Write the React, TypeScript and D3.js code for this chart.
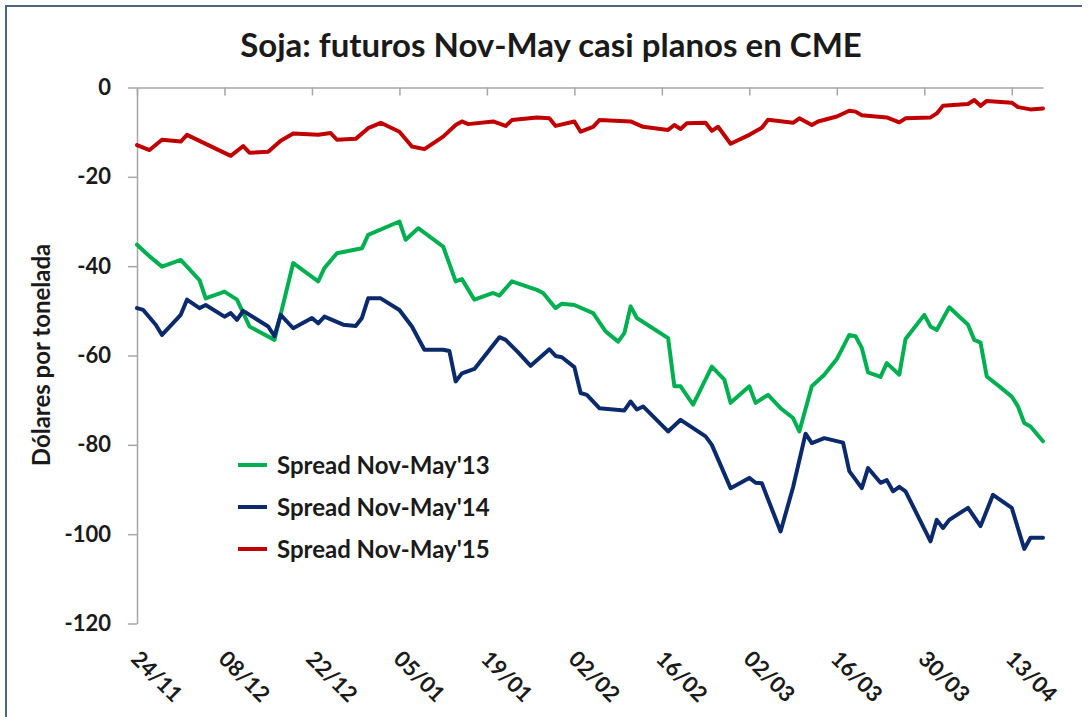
import { useEffect, useRef } from "react";
import * as d3 from "d3";

// spreads Nov-May, dólares por tonelada
const spread13 = [
  ["2014-11-24", -35.2], ["2014-11-26", -37.8], ["2014-11-28", -40.1], ["2014-12-01", -38.6],
  ["2014-12-04", -43.1], ["2014-12-05", -47.2], ["2014-12-08", -45.7], ["2014-12-10", -47.5],
  ["2014-12-12", -53.5], ["2014-12-16", -56.5], ["2014-12-19", -39.3], ["2014-12-23", -43.4],
  ["2014-12-24", -40.4], ["2014-12-26", -37.1], ["2014-12-30", -36.0], ["2014-12-31", -33.0],
  ["2015-01-05", -30.0], ["2015-01-06", -34.1], ["2015-01-08", -31.5], ["2015-01-12", -35.6],
  ["2015-01-14", -43.4], ["2015-01-15", -42.9], ["2015-01-17", -47.5], ["2015-01-20", -46.0],
  ["2015-01-21", -46.6], ["2015-01-23", -43.4], ["2015-01-27", -45.3], ["2015-01-28", -46.0],
  ["2015-01-30", -49.4], ["2015-01-31", -48.4], ["2015-02-02", -48.7], ["2015-02-05", -50.5],
  ["2015-02-07", -54.6], ["2015-02-09", -56.9], ["2015-02-10", -55.0], ["2015-02-11", -49.0],
  ["2015-02-12", -51.6], ["2015-02-17", -56.1], ["2015-02-18", -66.9], ["2015-02-19", -66.9],
  ["2015-02-21", -71.0], ["2015-02-24", -62.5], ["2015-02-26", -65.4], ["2015-02-27", -70.6],
  ["2015-03-02", -66.9], ["2015-03-03", -70.6], ["2015-03-05", -68.8], ["2015-03-07", -71.8],
  ["2015-03-09", -74.0], ["2015-03-10", -77.0], ["2015-03-12", -66.9], ["2015-03-14", -64.3],
  ["2015-03-16", -60.8], ["2015-03-18", -55.4], ["2015-03-19", -55.7], ["2015-03-20", -58.3],
  ["2015-03-21", -63.8], ["2015-03-23", -64.8], ["2015-03-24", -61.7], ["2015-03-26", -64.3],
  ["2015-03-27", -56.3], ["2015-03-30", -50.9], ["2015-03-31", -53.5], ["2015-04-01", -54.3],
  ["2015-04-03", -49.2], ["2015-04-06", -53.1], ["2015-04-07", -56.5], ["2015-04-08", -57.1],
  ["2015-04-09", -64.7], ["2015-04-11", -66.9], ["2015-04-13", -69.2], ["2015-04-14", -71.4],
  ["2015-04-15", -75.1], ["2015-04-16", -75.9], ["2015-04-18", -79.2],
];

const spread14 = [
  ["2014-11-24", -49.4], ["2014-11-25", -49.8], ["2014-11-27", -53.1], ["2014-11-28", -55.4],
  ["2014-12-01", -50.9], ["2014-12-02", -47.5], ["2014-12-04", -49.4], ["2014-12-05", -48.7],
  ["2014-12-08", -51.3], ["2014-12-09", -50.5], ["2014-12-10", -52.0], ["2014-12-11", -50.0],
  ["2014-12-15", -53.5], ["2014-12-16", -55.7], ["2014-12-17", -50.9], ["2014-12-19", -53.9],
  ["2014-12-22", -51.6], ["2014-12-23", -52.8], ["2014-12-24", -51.3], ["2014-12-27", -53.1],
  ["2014-12-29", -53.4], ["2014-12-30", -51.6], ["2014-12-31", -47.2], ["2015-01-02", -47.2],
  ["2015-01-05", -49.8], ["2015-01-07", -53.5], ["2015-01-09", -58.7], ["2015-01-12", -58.7],
  ["2015-01-13", -59.0], ["2015-01-14", -65.8], ["2015-01-15", -64.0], ["2015-01-17", -63.0],
  ["2015-01-21", -55.9], ["2015-01-22", -56.5], ["2015-01-24", -59.3], ["2015-01-26", -62.3],
  ["2015-01-29", -58.6], ["2015-01-30", -60.1], ["2015-01-31", -60.4], ["2015-02-02", -62.6],
  ["2015-02-03", -68.4], ["2015-02-04", -68.8], ["2015-02-06", -71.8], ["2015-02-10", -72.3],
  ["2015-02-11", -70.3], ["2015-02-12", -72.1], ["2015-02-13", -71.4], ["2015-02-17", -77.0],
  ["2015-02-19", -74.4], ["2015-02-23", -78.1], ["2015-02-24", -80.0], ["2015-02-27", -89.7],
  ["2015-03-02", -87.4], ["2015-03-03", -88.5], ["2015-03-04", -88.6], ["2015-03-07", -99.4],
  ["2015-03-09", -89.5], ["2015-03-11", -77.5], ["2015-03-12", -79.6], ["2015-03-14", -78.5],
  ["2015-03-17", -79.5], ["2015-03-18", -85.9], ["2015-03-20", -89.7], ["2015-03-21", -85.2],
  ["2015-03-23", -88.5], ["2015-03-24", -87.9], ["2015-03-25", -90.4], ["2015-03-26", -89.4],
  ["2015-03-27", -90.4], ["2015-03-31", -101.6], ["2015-04-01", -96.8], ["2015-04-02", -98.6],
  ["2015-04-03", -96.8], ["2015-04-06", -94.1], ["2015-04-08", -98.2], ["2015-04-10", -91.2],
  ["2015-04-13", -94.1], ["2015-04-15", -103.3], ["2015-04-16", -100.8], ["2015-04-18", -100.8],
];

const spread15 = [
  ["2014-11-24", -12.9], ["2014-11-26", -14.0], ["2014-11-28", -11.7], ["2014-12-01", -12.1],
  ["2014-12-02", -10.6], ["2014-12-09", -15.3], ["2014-12-11", -13.1], ["2014-12-12", -14.6],
  ["2014-12-15", -14.4], ["2014-12-17", -11.9], ["2014-12-19", -10.3], ["2014-12-23", -10.6],
  ["2014-12-25", -10.2], ["2014-12-26", -11.7], ["2014-12-29", -11.5], ["2014-12-31", -9.1],
  ["2015-01-02", -7.9], ["2015-01-05", -9.9], ["2015-01-07", -13.2], ["2015-01-09", -13.8],
  ["2015-01-12", -11.0], ["2015-01-14", -8.4], ["2015-01-15", -7.6], ["2015-01-16", -8.2],
  ["2015-01-20", -7.6], ["2015-01-22", -8.6], ["2015-01-23", -7.3], ["2015-01-27", -6.7],
  ["2015-01-29", -6.9], ["2015-01-30", -8.6], ["2015-02-02", -7.6], ["2015-02-03", -9.9],
  ["2015-02-05", -8.8], ["2015-02-06", -7.3], ["2015-02-11", -7.6], ["2015-02-13", -8.8],
  ["2015-02-17", -9.5], ["2015-02-18", -8.4], ["2015-02-19", -9.3], ["2015-02-20", -8.0],
  ["2015-02-23", -7.9], ["2015-02-24", -9.7], ["2015-02-25", -8.8], ["2015-02-27", -12.6],
  ["2015-03-02", -10.6], ["2015-03-04", -9.0], ["2015-03-05", -7.2], ["2015-03-09", -7.9],
  ["2015-03-10", -6.9], ["2015-03-12", -8.4], ["2015-03-13", -7.6], ["2015-03-16", -6.5],
  ["2015-03-18", -5.2], ["2015-03-19", -5.4], ["2015-03-20", -6.2], ["2015-03-24", -6.7],
  ["2015-03-26", -7.8], ["2015-03-27", -6.9], ["2015-03-31", -6.7], ["2015-04-01", -5.8],
  ["2015-04-02", -4.1], ["2015-04-06", -3.7], ["2015-04-07", -2.8], ["2015-04-08", -4.1],
  ["2015-04-09", -3.0], ["2015-04-13", -3.4], ["2015-04-14", -4.4], ["2015-04-16", -4.9],
  ["2015-04-18", -4.7],
];

const seriesNames = ["Spread Nov-May'13", "Spread Nov-May'14", "Spread Nov-May'15"];
const seriesColors = ["#00b050", "#0b2a6b", "#c00000"];
const xTicks = [
  "2014-11-24", "2014-12-08", "2014-12-22", "2015-01-05", "2015-01-19", "2015-02-02",
  "2015-02-16", "2015-03-02", "2015-03-16", "2015-03-30", "2015-04-13",
];
const yTicks = [0, -20, -40, -60, -80, -100, -120];

const FONT = "Lato, 'Open Sans', sans-serif";

const App = () => {
  const svgRef = useRef(null);

  useEffect(() => {
    const parse = d3.timeParse("%Y-%m-%d");
    const svg = d3.select(svgRef.current);
    svg.selectAll("*").remove();

    const x = d3.scaleTime().domain([parse("2014-11-24"), parse("2015-04-18")]).range([137, 1043]);
    const y = d3.scaleLinear().domain([-120, 0]).range([623.5, 87.5]);
    const gray = "#a6a6a6";

    // marco
    svg.append("path").attr("d", "M6,717 L6,6 L1082,6").attr("fill", "none").attr("stroke", "#4f6380").attr("stroke-width", 2);

    svg.append("text").attr("x", 551).attr("y", 57).attr("text-anchor", "middle")
      .style("font-family", FONT).style("font-weight", 700).style("font-size", "33px").attr("fill", "#1a1a1a")
      .text("Soja: futuros Nov-May casi planos en CME");

    // eje y
    const yAxis = svg.append("g").attr("transform", "translate(137,0)")
      .call(d3.axisLeft(y).tickValues(yTicks).tickSize(9).tickSizeOuter(0).tickPadding(17).tickFormat((d) => String(d)));
    yAxis.select(".domain").attr("stroke", gray).attr("stroke-width", 1.5);
    yAxis.selectAll(".tick line").attr("stroke", gray).attr("stroke-width", 1.5);
    yAxis.selectAll(".tick text").style("font-family", FONT).style("font-weight", 700).style("font-size", "22px").attr("fill", "#1a1a1a");

    // eje x en y=0 con marcas hacia abajo
    const xAxis = svg.append("g").attr("transform", `translate(0,${y(0)})`)
      .call(d3.axisBottom(x).tickValues(xTicks.map(parse)).tickSize(8).tickSizeOuter(0).tickFormat(() => ""));
    xAxis.select(".domain").attr("stroke", gray).attr("stroke-width", 1.5);
    xAxis.selectAll(".tick line").attr("stroke", gray).attr("stroke-width", 1.5);

    const fmt = d3.timeFormat("%d/%m");
    svg.append("g").selectAll("text").data(xTicks).enter().append("text")
      .attr("transform", (d) => `translate(${x(parse(d)) + 4},649) rotate(45)`)
      .attr("dy", "0.72em")
      .style("font-family", FONT).style("font-weight", 700).style("font-size", "22px").attr("fill", "#1a1a1a")
      .text((d) => fmt(parse(d)));

    svg.append("text").attr("transform", "translate(50,355) rotate(-90)").attr("text-anchor", "middle")
      .style("font-family", FONT).style("font-weight", 700).style("font-size", "24px").attr("fill", "#1a1a1a")
      .text("Dólares por tonelada");

    const line = d3.line().x((d) => x(parse(d[0]))).y((d) => y(d[1]));
    [spread13, spread14, spread15].forEach((data, i) => {
      svg.append("path").datum(data).attr("d", line).attr("fill", "none")
        .attr("stroke", seriesColors[i]).attr("stroke-width", 4)
        .attr("stroke-linejoin", "round").attr("stroke-linecap", "round");
    });

    const legend = svg.append("g").selectAll("g").data(seriesNames).enter().append("g")
      .attr("transform", (d, i) => `translate(238,${465 + i * 42})`);
    legend.append("line").attr("x1", 0).attr("x2", 29).attr("stroke", (d, i) => seriesColors[i]).attr("stroke-width", 4);
    legend.append("text").attr("x", 39).attr("dy", "0.36em")
      .style("font-family", FONT).style("font-weight", 700).style("font-size", "24px").attr("fill", "#1a1a1a")
      .text((d) => d);
  }, []);

  return (
    <div style={{ position: "absolute", left: 0, top: 0 }}>
      <svg ref={svgRef} width={1090} height={717} style={{ display: "block", background: "#fff" }}></svg>
    </div>
  );
};

export default App;
